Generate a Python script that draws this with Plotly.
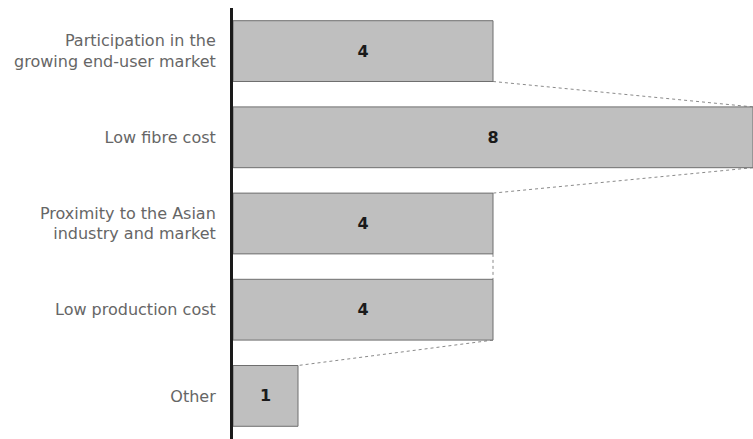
import plotly.graph_objects as go

# Reasons, top to bottom, and the number of responses for each
categories = [
    "Participation in the<br>growing end-user market",
    "Low fibre cost",
    "Proximity to the Asian<br>industry and market",
    "Low production cost",
    "Other",
]
counts = [4, 8, 4, 4, 1]

positions = list(range(len(categories)))
bar_width = 0.705

fig = go.Figure(
    go.Bar(
        x=counts,
        y=positions,
        orientation="h",
        width=bar_width,
        marker=dict(color="#bfbfbf", line=dict(color="#6e6e6e", width=1)),
        text=[str(c) for c in counts],
        textposition="inside",
        insidetextanchor="middle",
        textangle=0,
        textfont=dict(family="DejaVu Sans", size=16, color="#1a1a1a", weight="bold"),
        hoverinfo="skip",
    )
)

# Dotted connectors from each bar's lower-right corner to the next bar's upper-right corner
half = bar_width / 2
for i in range(len(counts) - 1):
    fig.add_shape(
        type="line",
        xref="x",
        yref="y",
        x0=counts[i],
        y0=positions[i] + half,
        x1=counts[i + 1],
        y1=positions[i + 1] - half,
        line=dict(color="#8a8a8a", width=1, dash="dot"),
        layer="below",
    )

fig.update_layout(
    width=753,
    height=439,
    margin=dict(l=233, r=0, t=8, b=0),
    paper_bgcolor="white",
    plot_bgcolor="white",
    showlegend=False,
    xaxis=dict(
        range=[0, max(counts)],
        visible=False,
        fixedrange=True,
    ),
    yaxis=dict(
        range=[len(categories) - 0.5, -0.5],
        tickmode="array",
        tickvals=positions,
        ticktext=categories,
        showline=True,
        linecolor="#1a1a1a",
        linewidth=3,
        showgrid=False,
        zeroline=False,
        ticks="",
        ticklabelstandoff=11,
        tickfont=dict(family="DejaVu Sans", size=16, color="#666666"),
        fixedrange=True,
    ),
)

fig.write_html("out.html")
